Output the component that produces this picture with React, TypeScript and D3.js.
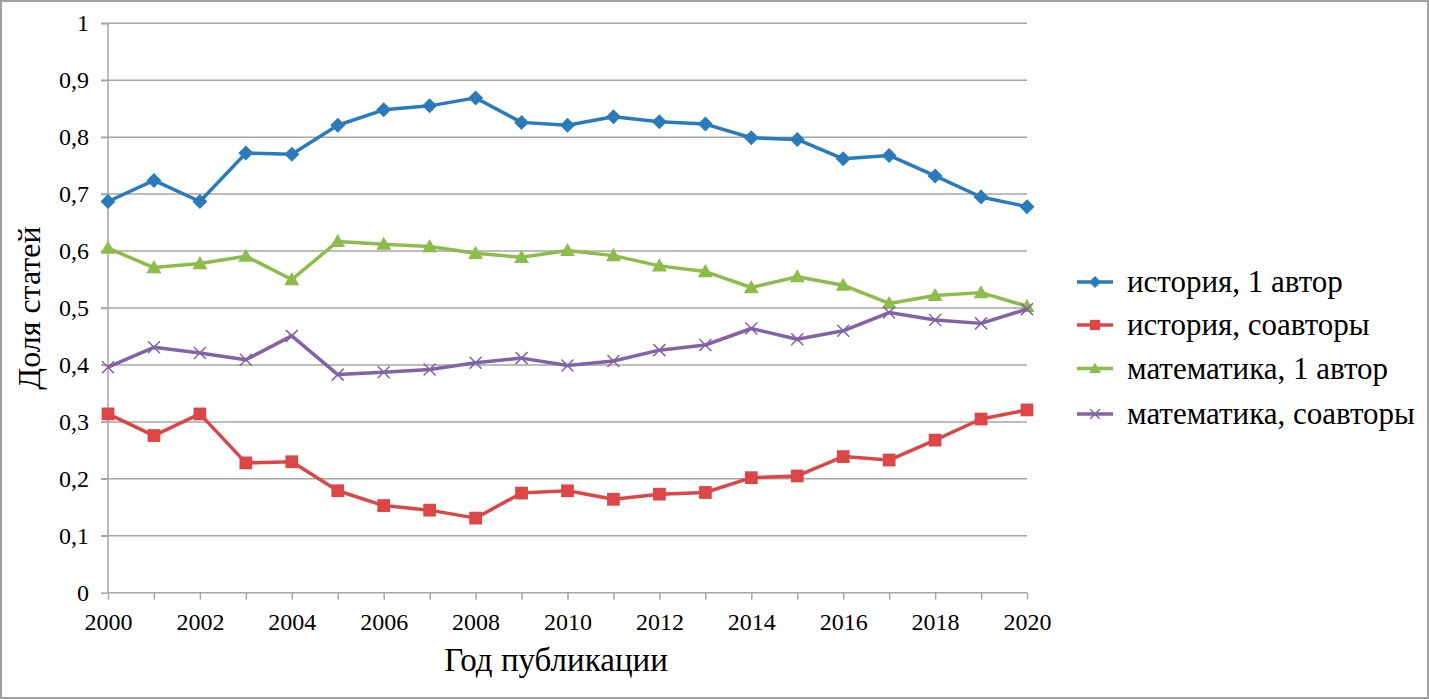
import React, { useEffect, useRef } from "react";
import * as d3 from "d3";

const years = [
  2000, 2001, 2002, 2003, 2004, 2005, 2006, 2007, 2008, 2009, 2010, 2011, 2012,
  2013, 2014, 2015, 2016, 2017, 2018, 2019, 2020,
];

const historySingle = [
  0.687, 0.724, 0.687, 0.772, 0.77, 0.821, 0.848, 0.855, 0.869, 0.826, 0.821,
  0.836, 0.827, 0.823, 0.799, 0.796, 0.762, 0.768, 0.732, 0.695, 0.678,
];
const historyCo = [
  0.314, 0.276, 0.314, 0.228, 0.23, 0.179, 0.153, 0.145, 0.131, 0.175, 0.179,
  0.164, 0.173, 0.176, 0.202, 0.205, 0.239, 0.233, 0.268, 0.305, 0.321,
];
const mathSingle = [
  0.605, 0.571, 0.578, 0.591, 0.55, 0.617, 0.612, 0.608, 0.596, 0.589, 0.601,
  0.592, 0.574, 0.564, 0.536, 0.555, 0.54, 0.508, 0.522, 0.527, 0.503,
];
const mathCo = [
  0.396, 0.431, 0.421, 0.409, 0.451, 0.383, 0.387, 0.392, 0.404, 0.412, 0.399,
  0.407, 0.426, 0.435, 0.464, 0.445, 0.46, 0.492, 0.479, 0.473, 0.498,
];

const seriesNames = [
  "история, 1 автор",
  "история, соавторы",
  "математика, 1 автор",
  "математика, соавторы",
];
const yTicks = [0, 0.1, 0.2, 0.3, 0.4, 0.5, 0.6, 0.7, 0.8, 0.9, 1];
const xTickLabels = [2000, 2002, 2004, 2006, 2008, 2010, 2012, 2014, 2016, 2018, 2020];

type Marker = "diamond" | "square" | "triangle" | "cross";

const series: { name: string; values: number[]; color: string; marker: Marker }[] = [
  { name: seriesNames[0], values: historySingle, color: "#2a7bbb", marker: "diamond" },
  { name: seriesNames[1], values: historyCo, color: "#dc4646", marker: "square" },
  { name: seriesNames[2], values: mathSingle, color: "#8cbd4b", marker: "triangle" },
  { name: seriesNames[3], values: mathCo, color: "#8462a6", marker: "cross" },
];

const font = "'Times New Roman', Times, 'Liberation Serif', 'DejaVu Serif', serif";

const App: React.FC = () => {
  const svgRef = useRef<SVGSVGElement | null>(null);

  useEffect(() => {
    if (!svgRef.current) return;
    document.body.style.margin = "0";

    const width = 1429;
    const height = 699;
    const marginTop = 23.3;
    const marginLeft = 108;
    const plotRight = 1027;
    const plotBottom = 592.7;

    const x = d3.scaleLinear().domain([2000, 2020]).range([marginLeft, plotRight]);
    const y = d3.scaleLinear().domain([0, 1]).range([plotBottom, marginTop]);

    const svg = d3
      .select(svgRef.current)
      .attr("viewBox", [0, 0, width, height])
      .attr("width", width)
      .attr("height", height)
      .style("display", "block")
      .style("font-family", font);

    // Frame
    svg
      .append("rect")
      .attr("x", 1)
      .attr("y", 1)
      .attr("width", width - 2)
      .attr("height", height - 2)
      .attr("fill", "#fff")
      .attr("stroke", "#a0a0a0")
      .attr("stroke-width", 2);

    // Gridlines
    svg
      .append("g")
      .selectAll("line")
      .data(yTicks.filter((d) => d > 0))
      .join("line")
      .attr("x1", marginLeft - 7)
      .attr("x2", plotRight)
      .attr("y1", (d) => y(d))
      .attr("y2", (d) => y(d))
      .attr("stroke", "#a6a6a6")
      .attr("stroke-width", 1.5);

    // Y axis
    const gy = svg
      .append("g")
      .attr("transform", `translate(${marginLeft},0)`)
      .call(
        d3
          .axisLeft(y)
          .tickValues(yTicks)
          .tickSize(7)
          .tickPadding(12)
          .tickFormat((d) => String(d).replace(".", ","))
      )
      .attr("font-family", null)
      .attr("font-size", 24);
    gy.select(".domain").attr("stroke", "#a6a6a6").attr("stroke-width", 1.5).attr("d", `M0,${plotBottom}V${marginTop}`);
    gy.selectAll(".tick line").attr("stroke", "#a6a6a6").attr("stroke-width", 1.5);
    gy.selectAll(".tick text").attr("fill", "#000");

    // X axis
    const gx = svg
      .append("g")
      .attr("transform", `translate(0,${plotBottom})`)
      .call(
        d3
          .axisBottom(x)
          .tickValues(years)
          .tickSize(7)
          .tickPadding(13)
          .tickFormat((d) => (xTickLabels.includes(+d) ? String(d) : ""))
      )
      .attr("font-family", null)
      .attr("font-size", 24);
    gx.select(".domain").attr("stroke", "#a6a6a6").attr("stroke-width", 1.5).attr("d", `M${marginLeft},0H${plotRight}`);
    gx.selectAll(".tick line").attr("stroke", "#a6a6a6").attr("stroke-width", 1.5);
    gx.selectAll(".tick text").attr("fill", "#000");

    // Axis titles
    svg
      .append("text")
      .attr("x", 556)
      .attr("y", 671)
      .attr("text-anchor", "middle")
      .attr("font-size", 33)
      .text("Год публикации");

    svg
      .append("text")
      .attr("transform", `translate(40,308) rotate(-90)`)
      .attr("text-anchor", "middle")
      .attr("font-size", 32)
      .text("Доля статей");

    const drawMarker = (
      g: d3.Selection<SVGGElement, unknown, null, undefined>,
      marker: Marker,
      color: string,
      cx: number,
      cy: number,
      s: number
    ) => {
      if (marker === "diamond") {
        g.append("path")
          .attr("d", `M${cx},${cy - s}L${cx + s},${cy}L${cx},${cy + s}L${cx - s},${cy}Z`)
          .attr("fill", color);
      } else if (marker === "square") {
        g.append("rect")
          .attr("x", cx - s * 0.85)
          .attr("y", cy - s * 0.85)
          .attr("width", s * 1.7)
          .attr("height", s * 1.7)
          .attr("fill", color);
      } else if (marker === "triangle") {
        g.append("path")
          .attr("d", `M${cx},${cy - s}L${cx + s},${cy + s * 0.75}L${cx - s},${cy + s * 0.75}Z`)
          .attr("fill", color);
      } else {
        const r = s * 0.8;
        g.append("path")
          .attr("d", `M${cx - r},${cy - r}L${cx + r},${cy + r}M${cx - r},${cy + r}L${cx + r},${cy - r}`)
          .attr("stroke", color)
          .attr("stroke-width", 1.5)
          .attr("fill", "none");
      }
    };

    const line = d3
      .line<number>()
      .x((_, i) => x(years[i]))
      .y((d) => y(d));

    series.forEach((s) => {
      const g = svg.append("g");
      g.append("path")
        .datum(s.values)
        .attr("d", line)
        .attr("fill", "none")
        .attr("stroke", s.color)
        .attr("stroke-width", 3.5)
        .attr("stroke-linejoin", "round");
      s.values.forEach((v, i) => drawMarker(g, s.marker, s.color, x(years[i]), y(v), 7.5));
    });

    // Legend
    const legendRows = [282, 325, 368.5, 414];
    series.forEach((s, i) => {
      const g = svg.append("g");
      const ly = legendRows[i];
      g.append("line")
        .attr("x1", 1077)
        .attr("x2", 1113)
        .attr("y1", ly)
        .attr("y2", ly)
        .attr("stroke", s.color)
        .attr("stroke-width", 3.5);
      drawMarker(g, s.marker, s.color, 1095, ly, 6);
      g.append("text")
        .attr("x", 1127)
        .attr("y", ly + 10)
        .attr("font-size", 31)
        .text(s.name);
    });

    return () => {
      svg.selectAll("*").remove();
    };
  }, []);

  return <svg ref={svgRef}></svg>;
};

export default App;
